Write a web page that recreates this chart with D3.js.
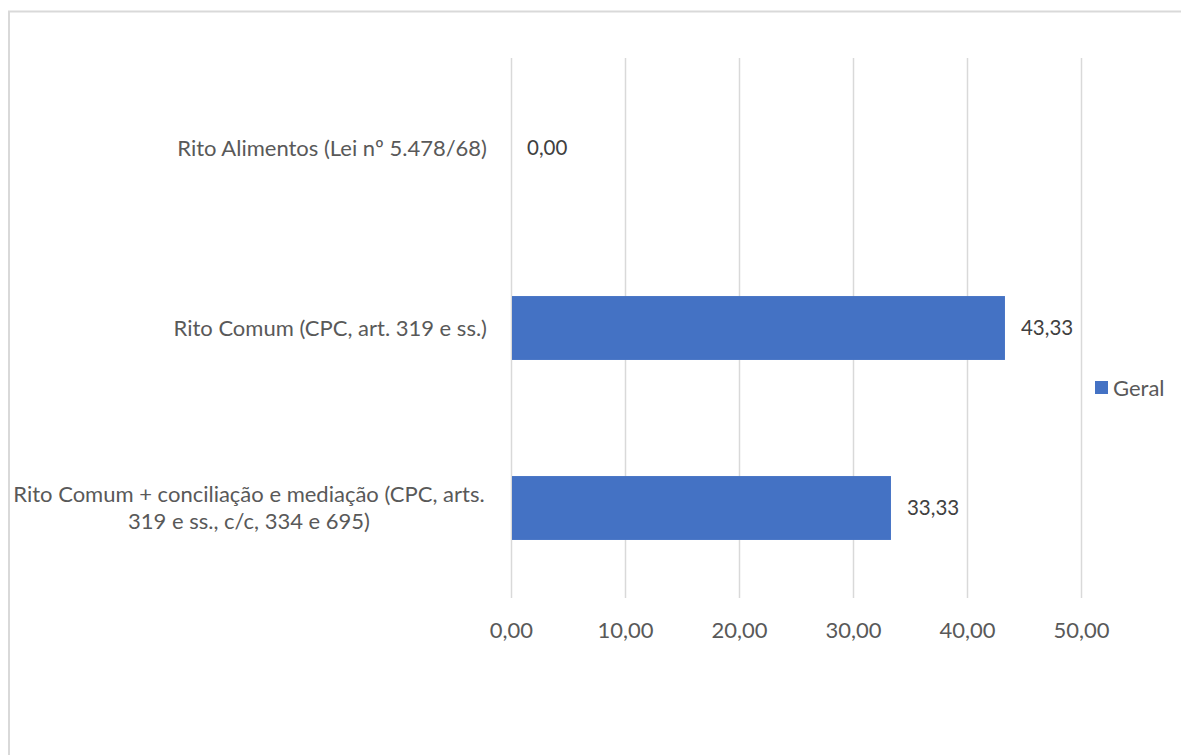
<!DOCTYPE html>
<html>
<head>
<meta charset="utf-8">
<script src="https://cdn.jsdelivr.net/npm/d3@7"></script>
<style>
  html, body { margin: 0; padding: 0; background: #fff; }
  svg { display: block; }
  text { font-family: Lato, "Open Sans", sans-serif; }
</style>
</head>
<body>
<svg id="chart" width="1181" height="755"></svg>
<script>
// Categories (top to bottom) with wrapped label lines
const categories = [
  "Rito Alimentos (Lei nº 5.478/68)",
  "Rito Comum (CPC, art. 319 e ss.)",
  "Rito Comum + conciliação e mediação (CPC, arts. 319 e ss., c/c, 334 e 695)"
];
const categoryLines = [
  ["Rito Alimentos (Lei nº 5.478/68)"],
  ["Rito Comum (CPC, art. 319 e ss.)"],
  ["Rito Comum + conciliação e mediação (CPC, arts.", "319 e ss., c/c, 334 e 695)"]
];
const geralValues = [0.00, 43.33, 33.33];
const tickValues = [0, 10, 20, 30, 40, 50];
const seriesName = "Geral";

const fmt = v => d3.format(".2f")(v).replace(".", ",");
const FS_LABEL = 22;
const FS_VALUE = 20.5;

const svg = d3.select("#chart");

// Chart frame
svg.append("rect")
  .attr("x", 9).attr("y", 11.5)
  .attr("width", 1200).attr("height", 800)
  .attr("fill", "none").attr("stroke", "#d9d9d9").attr("stroke-width", 2);

const x = d3.scaleLinear().domain([0, 50]).range([511, 1081]);
const y = d3.scaleBand().domain(categories).range([58, 598]).paddingInner(0.645).paddingOuter(0.3225);

// Vertical gridlines
svg.append("g")
  .selectAll("line")
  .data(tickValues)
  .join("line")
  .attr("x1", d => x(d) + 0.5).attr("x2", d => x(d) + 0.5)
  .attr("y1", 58).attr("y2", 598)
  .attr("stroke", "#d9d9d9").attr("stroke-width", 1.5);

// Bars
svg.append("g")
  .selectAll("rect")
  .data(geralValues)
  .join("rect")
  .attr("x", x(0) + 1)
  .attr("y", (d, i) => y(categories[i]))
  .attr("width", d => Math.max(0, x(d) - x(0) - 1))
  .attr("height", y.bandwidth())
  .attr("fill", "#4472c4");

// Value labels
svg.append("g")
  .selectAll("text")
  .data(geralValues)
  .join("text")
  .attr("x", d => x(d) + 16)
  .attr("y", (d, i) => y(categories[i]) + y.bandwidth() / 2)
  .attr("dy", "0.35em")
  .attr("font-size", FS_VALUE)
  .attr("fill", "#404040")
  .text(d => fmt(d));

// X axis tick labels
const xAxis = d3.axisBottom(x).tickValues(tickValues).tickFormat(fmt).tickSize(0).tickPadding(0);
const gx = svg.append("g").attr("transform", "translate(0,622)").call(xAxis);
gx.select(".domain").remove();
gx.selectAll("text")
  .attr("font-family", "Lato, 'Open Sans', sans-serif")
  .attr("font-size", FS_LABEL)
  .attr("fill", "#595959");

// Category labels
const catG = svg.append("g");
categoryLines.forEach((lines, i) => {
  const cy = y(categories[i]) + y.bandwidth() / 2;
  const lh = 27;
  if (lines.length === 1) {
    catG.append("text")
      .attr("x", 487).attr("y", cy).attr("dy", "0.35em")
      .attr("text-anchor", "end")
      .attr("font-size", FS_LABEL).attr("fill", "#595959")
      .text(lines[0]);
  } else {
    const t = catG.append("text")
      .attr("text-anchor", "middle")
      .attr("font-size", FS_LABEL).attr("fill", "#595959");
    lines.forEach((ln, j) => {
      t.append("tspan")
        .attr("x", 249)
        .attr("y", cy + (j - (lines.length - 1) / 2) * lh)
        .attr("dy", "0.35em")
        .text(ln);
    });
  }
});

// Legend
const lg = svg.append("g").attr("transform", "translate(1095,381)");
lg.append("rect").attr("width", 13).attr("height", 13).attr("fill", "#4472c4");
lg.append("text").attr("x", 18).attr("y", 7).attr("dy", "0.35em")
  .attr("font-size", FS_LABEL).attr("fill", "#595959").text(seriesName);
</script>
</body>
</html>
